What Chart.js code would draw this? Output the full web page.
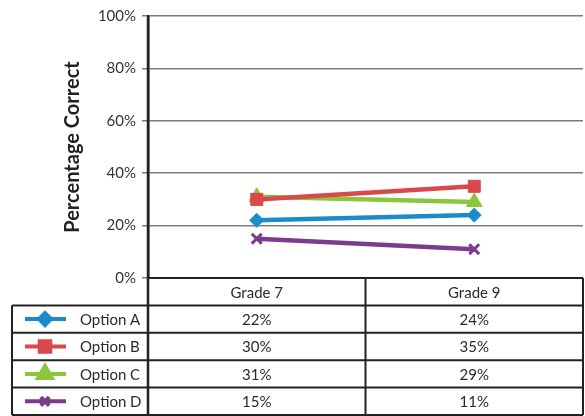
<!DOCTYPE html>
<html>
<head>
<meta charset="utf-8">
<title>Percentage Correct by Grade</title>
<script src="https://cdn.jsdelivr.net/npm/chart.js@4"></script>
<style>
  body { margin: 0; background: #fff; }
  #chart { display: block; }
</style>
</head>
<body>
<canvas id="chart" width="585" height="416"></canvas>
<script>
const grades = ["Grade 7", "Grade 9"];
const optionNames = ["Option A", "Option B", "Option C", "Option D"];
const optionA = [22, 24];
const optionB = [30, 35];
const optionC = [31, 29];
const optionD = [15, 11];
const yTicks = [0, 20, 40, 60, 80, 100];

const colors = ["#1b8bc9", "#d9484b", "#8cc63f", "#7b3c8e"];
const markers = [
    { pointStyle: "rectRot", radius: 7, legendRadius: 6 },
    { pointStyle: "rect", radius: 8.5, legendRadius: 7.5 },
    { pointStyle: "triangle", radius: 9, legendRadius: 8 },
    { pointStyle: "crossRot", radius: 7, legendRadius: 6 },
];
const seriesValues = [optionA, optionB, optionC, optionD];

const fontFamily = "Lato, 'Open Sans', sans-serif";
const gridColor = "#7c7c7c";

// Data table under the plot: header row with grades, then one row per option
const dataTable = {
    id: "dataTable",
    afterDraw(chart) {
        const { ctx, chartArea: area, scales: { x } } = chart;
        const bottom = chart.height - 1;
        const rowH = (bottom - area.bottom) / (optionNames.length + 1);
        const labelLeft = 12;
        const mid = (x.getPixelForValue(0) + x.getPixelForValue(1)) / 2;

        ctx.save();
        ctx.strokeStyle = "#222";
        ctx.lineWidth = 2;

        // horizontal rules
        for (let r = 0; r <= optionNames.length + 1; r++) {
            const y = area.bottom + r * rowH;
            ctx.beginPath();
            ctx.moveTo(r === 0 ? area.left : labelLeft, y);
            ctx.lineTo(area.right, y);
            ctx.stroke();
        }
        // vertical rules
        const verticals = [
            [labelLeft, area.bottom + rowH],
            [mid, area.bottom],
            [area.right, area.bottom],
        ];
        verticals.forEach(([vx, top]) => {
            ctx.beginPath();
            ctx.moveTo(vx, top);
            ctx.lineTo(vx, bottom);
            ctx.stroke();
        });
        // y axis line continues down through the table
        ctx.lineWidth = 2.5;
        ctx.beginPath();
        ctx.moveTo(area.left, area.top);
        ctx.lineTo(area.left, bottom);
        ctx.stroke();

        ctx.fillStyle = "#2a2a2a";
        ctx.font = "15px " + fontFamily;
        ctx.textBaseline = "middle";
        ctx.textAlign = "center";
        grades.forEach((g, i) => {
            ctx.fillText(g, x.getPixelForValue(i), area.bottom + rowH / 2 + 1);
        });

        optionNames.forEach((name, r) => {
            const cy = area.bottom + (r + 1.5) * rowH;
            // legend key
            ctx.strokeStyle = colors[r];
            ctx.fillStyle = colors[r];
            ctx.lineWidth = 4;
            ctx.beginPath();
            ctx.moveTo(25, cy);
            ctx.lineTo(66, cy);
            ctx.stroke();
            Chart.helpers.drawPoint(ctx, {
                pointStyle: markers[r].pointStyle,
                radius: markers[r].legendRadius,
                rotation: 0,
                borderWidth: 3,
            }, 45, cy);

            ctx.fillStyle = "#2a2a2a";
            ctx.textAlign = "left";
            ctx.fillText(name, 80, cy + 1);
            ctx.textAlign = "center";
            seriesValues[r].forEach((v, i) => {
                ctx.fillText(v + "%", x.getPixelForValue(i), cy + 1);
            });
        });
        ctx.restore();
    },
};

const datasets = optionNames.map((name, i) => ({
    label: name,
    data: seriesValues[i],
    borderColor: colors[i],
    backgroundColor: colors[i],
    borderWidth: 4.5,
    pointStyle: markers[i].pointStyle,
    pointRadius: markers[i].radius,
    pointHoverRadius: markers[i].radius,
    pointBorderWidth: i === 3 ? 3 : 1,
    pointBorderColor: colors[i],
    pointBackgroundColor: colors[i],
}));

new Chart(document.getElementById("chart"), {
    type: "line",
    data: { labels: grades, datasets },
    options: {
        responsive: false,
        animation: false,
        layout: {
            autoPadding: false,
            padding: { left: 57, top: 16, right: 2, bottom: 138 },
        },
        plugins: {
            legend: { display: false },
            tooltip: { enabled: false },
        },
        scales: {
            x: { display: false, offset: true },
            y: {
                min: 0,
                max: 100,
                afterBuildTicks(scale) {
                    scale.ticks = yTicks.map((v) => ({ value: v }));
                },
                afterFit(scale) {
                    scale.width = 91;
                },
                ticks: {
                    callback: (v) => v + "%",
                    color: "#333",
                    padding: 6,
                    font: { family: fontFamily, size: 15 },
                },
                grid: { color: gridColor, lineWidth: 1.5, tickLength: 6 },
                border: { color: "#222", width: 2.5 },
                title: {
                    display: true,
                    text: "Percentage Correct",
                    color: "#222",
                    padding: { top: 4, bottom: 0 },
                    font: { family: fontFamily, size: 20, weight: "bold" },
                },
            },
        },
    },
    plugins: [dataTable],
});
</script>
</body>
</html>
